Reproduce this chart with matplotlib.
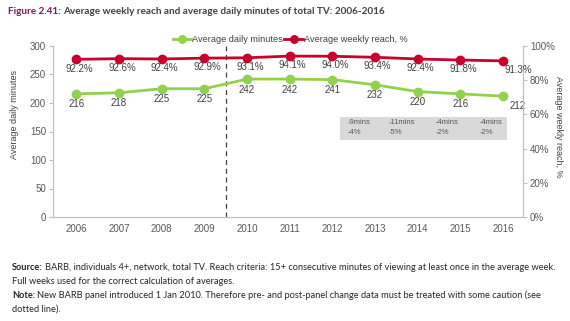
import matplotlib.pyplot as plt
from matplotlib.patches import Rectangle

# Average daily minutes and average weekly reach of total TV
years = [2006, 2007, 2008, 2009, 2010, 2011, 2012, 2013, 2014, 2015, 2016]
daily_minutes = [216, 218, 225, 225, 242, 242, 241, 232, 220, 216, 212]
weekly_reach = [92.2, 92.6, 92.4, 92.9, 93.1, 94.1, 94.0, 93.4, 92.4, 91.8, 91.3]

# Year-on-year change notes shown in the grey box
change_mins = ['-9mins', '-11mins', '-4mins', '-4mins']
change_pct = ['-4%', '-5%', '-2%', '-2%']

GREEN = '#92D050'
RED = '#C8002D'
TICK = '#595959'
LABEL = '#404040'
SPINE = '#BFBFBF'

plt.rcParams['font.family'] = ['Liberation Sans', 'DejaVu Sans']

fig = plt.figure(figsize=(5.7, 3.21), dpi=100)
ax = fig.add_axes([53 / 570, 1 - 217 / 321, 470 / 570, 171 / 321])
ax2 = ax.twinx()

ax.set_xlim(2005.45, 2016.47)
ax.set_ylim(0, 300)
ax2.set_ylim(0, 100)
ax.set_yticks(range(0, 301, 50))
ax2.set_yticks(range(0, 101, 20))
ax2.set_yticklabels([f'{v}%' for v in range(0, 101, 20)])
ax.set_xticks(years)

for a in (ax, ax2):
    for s in a.spines.values():
        s.set_color(SPINE)
        s.set_linewidth(0.8)
    a.spines['top'].set_visible(False)
    a.tick_params(colors=TICK, labelsize=7, length=3, width=0.8)
ax.tick_params(axis='x', length=0, pad=5)
ax.tick_params(axis='y', colors=SPINE, labelcolor=TICK, pad=2)
ax2.tick_params(axis='y', colors=SPINE, labelcolor=TICK, pad=2)

# reach line on the percentage axis, minutes line on the left axis
l1, = ax.plot(years, daily_minutes, color=GREEN, lw=2, marker='o', ms=6, zorder=3)
l2, = ax2.plot(years, weekly_reach, color=RED, lw=2, marker='o', ms=6, zorder=3)

for i, (x, y) in enumerate(zip(years, daily_minutes)):
    if i == len(years) - 1:
        ax.annotate(str(y), (x, y), xytext=(5, -7), textcoords='offset points',
                    ha='left', va='center', fontsize=7, color=LABEL)
    else:
        ax.annotate(str(y), (x, y), xytext=(0, -4), textcoords='offset points',
                    ha='center', va='top', fontsize=7, color=LABEL)
for i, (x, y) in enumerate(zip(years, weekly_reach)):
    if i == len(years) - 1:
        ax2.annotate(f'{y}%', (x, y), xytext=(1, -3), textcoords='offset points',
                     ha='left', va='top', fontsize=7, color=LABEL)
    else:
        ax2.annotate(f'{y}%', (x, y), xytext=(2, -3), textcoords='offset points',
                     ha='center', va='top', fontsize=7, color=LABEL)

# panel change marker
ax.axvline(2009.5, color='#404040', lw=0.9, ls=(0, (4, 3)), zorder=1)

# grey box of changes
ax.add_patch(Rectangle((287 / 470, 77 / 171), 167 / 470, 23 / 171,
                       transform=ax.transAxes, facecolor='#D9D9D9',
                       edgecolor='none', zorder=2))
for j, (m, p) in enumerate(zip(change_mins, change_pct)):
    xpos = [295, 336, 383, 427][j] / 470
    ax.text(xpos, 94 / 171, m, transform=ax.transAxes, fontsize=5.5,
            color=TICK, va='center', ha='left', zorder=3)
    ax.text(xpos, 84 / 171, p, transform=ax.transAxes, fontsize=5.5,
            color=TICK, va='center', ha='left', zorder=3)

fig.text(15 / 570, 1 - 115 / 321, 'Average daily minutes', rotation=90,
         ha='center', va='center', fontsize=6.5, color=LABEL)
fig.text(559 / 570, 1 - 127 / 321, 'Average weekly reach, %', rotation=270,
         ha='center', va='center', fontsize=6.5, color=LABEL)

fig.legend([l1, l2], ['Average daily minutes', 'Average weekly reach, %'],
           loc='center', bbox_to_anchor=(290 / 570, 1 - 40 / 321), ncol=2,
           frameon=False, fontsize=6.6, handlelength=2.0, handletextpad=0.1,
           columnspacing=0.2, labelcolor=LABEL, markerscale=0.9)

# title and footnotes
renderer = fig.canvas.get_renderer()


def rich_line(x, y, head, rest, size, head_color, rest_color, weight_rest='normal'):
    t = fig.text(x, y, head, fontsize=size, fontweight='bold', color=head_color,
                 family=['Lato', 'DejaVu Sans'], va='center', ha='left')
    bb = t.get_window_extent(renderer)
    fig.text(bb.x1 / fig.bbox.width + 2 / 570, y, rest, fontsize=size,
             fontweight=weight_rest, color=rest_color,
             family=['Lato', 'DejaVu Sans'], va='center', ha='left')


rich_line(8 / 570, 1 - 12 / 321, 'Figure 2.41:',
          'Average weekly reach and average daily minutes of total TV: 2006-2016',
          7.2, '#7A1A5E', '#404040', weight_rest='bold')
rich_line(12 / 570, 1 - 267 / 321, 'Source:',
          'BARB, individuals 4+, network, total TV. Reach criteria: 15+ consecutive '
          'minutes of viewing at least once in the average week.',
          6.7, '#262626', '#262626')
fig.text(12 / 570, 1 - 281 / 321, 'Full weeks used for the correct calculation of averages.',
         fontsize=6.7, color='#262626', family=['Lato', 'DejaVu Sans'], va='center')
rich_line(12 / 570, 1 - 295 / 321, 'Note:',
          'New BARB panel introduced 1 Jan 2010. Therefore pre- and post-panel change '
          'data must be treated with some caution (see',
          6.7, '#262626', '#262626')
fig.text(12 / 570, 1 - 309 / 321, 'dotted line).',
         fontsize=6.7, color='#262626', family=['Lato', 'DejaVu Sans'], va='center')

fig.savefig('out.png', dpi=100)
